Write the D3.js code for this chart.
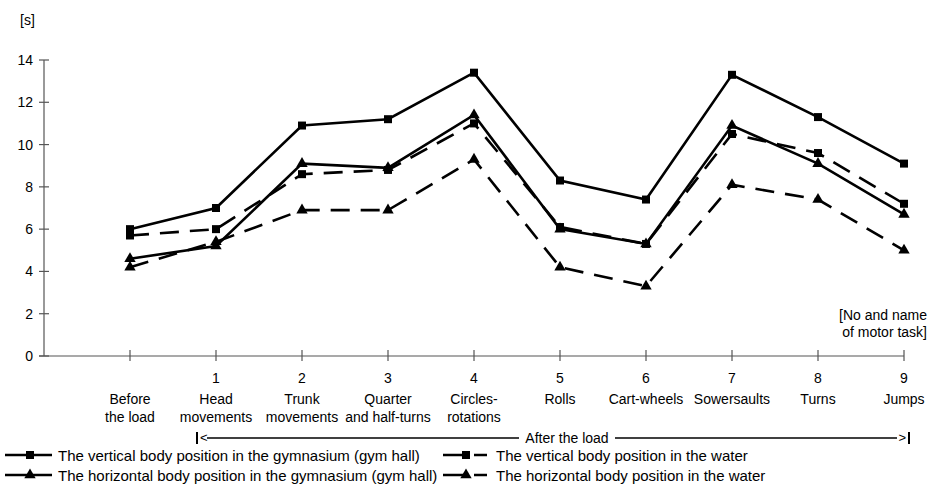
<!DOCTYPE html>
<html>
<head>
<meta charset="utf-8">
<script src="https://cdn.jsdelivr.net/npm/d3@7"></script>
<style>
body { margin: 0; background: #fff; }
text { font-family: "Liberation Sans", Arial, sans-serif; fill: #000; }
</style>
</head>
<body>
<script>
// DATA
var taskNumbers = ["", "1", "2", "3", "4", "5", "6", "7", "8", "9"];
var taskNames = [
  ["Before", "the load"], ["Head", "movements"], ["Trunk", "movements"],
  ["Quarter", "and half-turns"], ["Circles-", "rotations"], ["Rolls"],
  ["Cart-wheels"], ["Sowersaults"], ["Turns"], ["Jumps"]
];
var verticalGym   = [6.0, 7.0, 10.9, 11.2, 13.4, 8.3, 7.4, 13.3, 11.3, 9.1];
var verticalWater = [5.7, 6.0, 8.6, 8.8, 11.0, 6.1, 5.3, 10.5, 9.6, 7.2];
var horizGym      = [4.6, 5.2, 9.1, 8.9, 11.4, 6.0, 5.3, 10.9, 9.1, 6.7];
var horizWater    = [4.2, 5.4, 6.9, 6.9, 9.3, 4.2, 3.3, 8.1, 7.4, 5.0];
var yTicks = [0, 2, 4, 6, 8, 10, 12, 14];

var series = [
  {name: "The vertical body position in the gymnasium (gym hall)", values: verticalGym, marker: "square", dashed: false},
  {name: "The vertical body position in the water", values: verticalWater, marker: "square", dashed: true},
  {name: "The horizontal body position in the gymnasium (gym hall)", values: horizGym, marker: "triangle", dashed: false},
  {name: "The horizontal body position in the water", values: horizWater, marker: "triangle", dashed: true}
];

//SETTING UP THE CANVAS
var w = 930, h = 490;
var svg = d3.select("body").append("svg")
  .attr("width", w)
  .attr("height", h);

var axisColor = "#555";
var dash = "19,11";

// slot 0 is the y axis itself, tasks sit at slots 1..10
var x = d3.scaleLinear().domain([0, 10]).range([44, 904]);
var y = d3.scaleLinear().domain([0, 14]).range([356, 60]);

// y axis
svg.append("line")
  .attr("x1", x(0)).attr("x2", x(0))
  .attr("y1", y(14)).attr("y2", y(0))
  .attr("stroke", axisColor).attr("stroke-width", 1.2);
svg.selectAll(".ytick").data(yTicks).join("line")
  .attr("x1", x(0) - 5).attr("x2", x(0) + 5)
  .attr("y1", d => y(d)).attr("y2", d => y(d))
  .attr("stroke", axisColor).attr("stroke-width", 1.2);
svg.selectAll(".ylab").data(yTicks).join("text")
  .attr("x", 33).attr("y", d => y(d) + 5)
  .attr("text-anchor", "end")
  .style("font-size", "14px")
  .text(d => d);
svg.append("text").attr("x", 20).attr("y", 25)
  .style("font-size", "14px").text("[s]");

// x axis
svg.append("line")
  .attr("x1", x(0) - 5).attr("x2", x(10))
  .attr("y1", y(0)).attr("y2", y(0))
  .attr("stroke", axisColor).attr("stroke-width", 1.2);
svg.selectAll(".xtick").data(d3.range(1, 11)).join("line")
  .attr("x1", d => x(d)).attr("x2", d => x(d))
  .attr("y1", y(0) - 6).attr("y2", y(0) + 5)
  .attr("stroke", axisColor).attr("stroke-width", 1.2);

svg.selectAll(".xnum").data(taskNumbers).join("text")
  .attr("x", (d, i) => x(i + 1)).attr("y", 383)
  .attr("text-anchor", "middle")
  .style("font-size", "14px")
  .text(d => d);
var nameG = svg.selectAll(".xname").data(taskNames).join("text")
  .attr("text-anchor", "middle")
  .style("font-size", "14px");
nameG.selectAll("tspan").data((d, i) => d.map(t => ({t: t, i: i}))).join("tspan")
  .attr("x", d => x(d.i + 1))
  .attr("y", (d, j) => 404 + j * 18)
  .text(d => d.t);

svg.append("text").attr("x", 927).attr("y", 320)
  .attr("text-anchor", "end").style("font-size", "14px").text("[No and name");
svg.append("text").attr("x", 927).attr("y", 337)
  .attr("text-anchor", "end").style("font-size", "14px").text("of motor task]");

// "After the load" bracket
var by = 438;
svg.append("line").attr("x1", 197).attr("x2", 197).attr("y1", by - 6).attr("y2", by + 6)
  .attr("stroke", "#000").attr("stroke-width", 2);
svg.append("line").attr("x1", 909).attr("x2", 909).attr("y1", by - 6).attr("y2", by + 6)
  .attr("stroke", "#000").attr("stroke-width", 2);
svg.append("text").attr("x", 200).attr("y", by + 4).style("font-size", "13px").text("<");
svg.append("text").attr("x", 906).attr("y", by + 4).attr("text-anchor", "end").style("font-size", "13px").text(">");
svg.append("line").attr("x1", 207).attr("x2", 519).attr("y1", by).attr("y2", by)
  .attr("stroke", "#000").attr("stroke-width", 1.6);
svg.append("line").attr("x1", 615).attr("x2", 897).attr("y1", by).attr("y2", by)
  .attr("stroke", "#000").attr("stroke-width", 1.6);
svg.append("text").attr("x", 567).attr("y", by + 5)
  .attr("text-anchor", "middle").style("font-size", "14px").text("After the load");

// markers
var sym = {
  square: d3.symbol().type(d3.symbolSquare).size(64),
  triangle: d3.symbol().type(d3.symbolTriangle).size(56)
};

var line = d3.line()
  .x((d, i) => x(i + 1))
  .y(d => y(d));

var g = svg.selectAll(".series").data(series).join("g");
g.append("path")
  .attr("d", d => line(d.values))
  .attr("fill", "none")
  .attr("stroke", "#000")
  .attr("stroke-width", 2.6)
  .attr("stroke-dasharray", d => d.dashed ? dash : null);
g.selectAll(".pt").data(d => d.values.map(v => ({v: v, m: d.marker}))).join("path")
  .attr("transform", (d, i) => "translate(" + x(i + 1) + "," + y(d.v) + ")")
  .attr("d", d => sym[d.m]())
  .attr("fill", "#000");

// legend
var legPos = [[5, 455], [443, 455], [5, 475], [443, 475]];
var leg = svg.selectAll(".leg").data(series).join("g")
  .attr("transform", (d, i) => "translate(" + legPos[i][0] + "," + legPos[i][1] + ")");
leg.append("line")
  .attr("x1", 0).attr("x2", d => d.dashed ? 44 : 47)
  .attr("y1", 0).attr("y2", 0)
  .attr("stroke", "#000").attr("stroke-width", 2.6)
  .attr("stroke-dasharray", d => d.dashed ? "25,6,13" : null);
leg.append("path")
  .attr("transform", d => "translate(" + (d.dashed ? 23 : 25) + ",0)")
  .attr("d", d => sym[d.marker]())
  .attr("fill", "#000");
leg.append("text")
  .attr("x", d => d.dashed ? 53 : 53).attr("y", 6)
  .style("font-size", "15px")
  .text(d => d.name);
</script>
</body>
</html>
